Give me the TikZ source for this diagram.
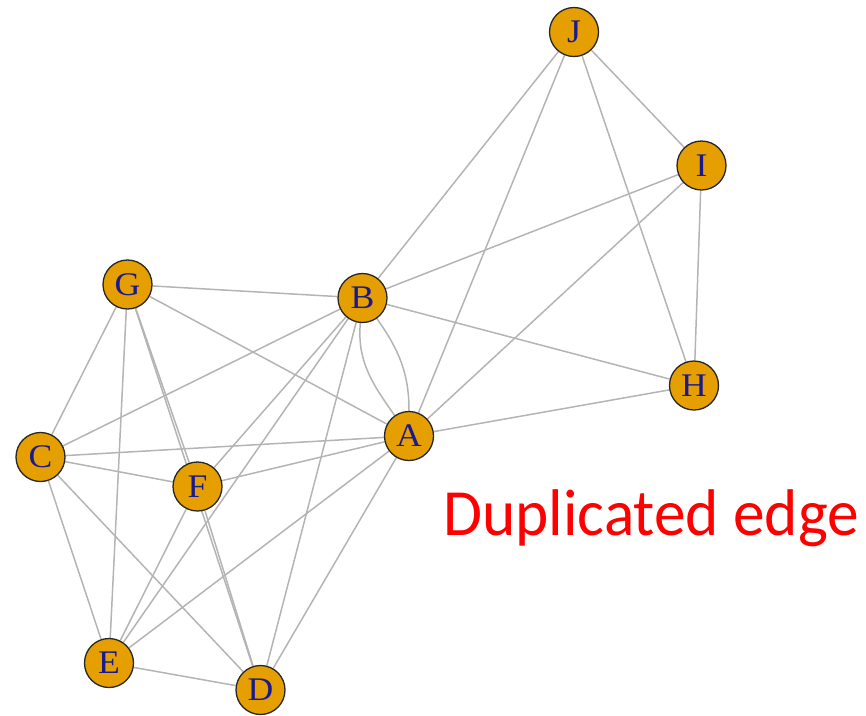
\documentclass[tikz,border=0pt]{standalone}
\usepackage{fontspec}
\setmainfont{Liberation Serif}
\newfontfamily\calib{Carlito}
\definecolor{vorange}{HTML}{E69F00}
\definecolor{vlabel}{HTML}{1A1A8C}
\definecolor{edgegray}{HTML}{B4B4B4}
\pgfdeclarelayer{bg}
\pgfsetlayers{bg,main}
\begin{document}
\begin{tikzpicture}[x=1pt,y=-1pt,
  vertex/.style={circle,draw=black!85,line width=1.3pt,fill=vorange,minimum size=49pt,inner sep=0pt,text=vlabel,font=\fontsize{33}{33}\selectfont},
  edge/.style={draw=edgegray,line width=1.5pt}]
\useasboundingbox (0,0) rectangle (866,715);
\node[vertex] (J) at (574,32) {\scalebox{1.08}[1]{J}};
\node[vertex] (I) at (701.5,165.5) {\scalebox{1.08}[1]{I}};
\node[vertex] (G) at (127.5,284.5) {\scalebox{1.08}[1]{G}};
\node[vertex] (B) at (362.5,298) {\scalebox{1.08}[1]{B}};
\node[vertex] (H) at (694,385.5) {\scalebox{1.08}[1]{H}};
\node[vertex] (A) at (409,436) {\scalebox{1.08}[1]{A}};
\node[vertex] (C) at (40.5,457) {\scalebox{1.08}[1]{C}};
\node[vertex] (F) at (197.5,486.5) {\scalebox{1.08}[1]{F}};
\node[vertex] (E) at (109,663) {\scalebox{1.08}[1]{E}};
\node[vertex] (D) at (260.5,690) {\scalebox{1.08}[1]{D}};
\begin{pgfonlayer}{bg}
\path[edge] (J) -- (I);
\path[edge] (J) -- (B);
\path[edge] (J) -- (A);
\path[edge] (J) -- (H);
\path[edge] (I) -- (B);
\path[edge] (I) -- (A);
\path[edge] (I) -- (H);
\path[edge] (G) -- (B);
\path[edge] (G) -- (A);
\path[edge] (G) -- (C);
\path[edge] (G) -- (E);
\path[edge] (G) -- (F);
\path[edge] (G.center) -- (D.center);
\path[edge] (F) -- (D);
\path[edge] (B) -- (C);
\path[edge] (B) -- (H);
\path[edge] (B) to[out=-95,in=125] (A);
\path[edge] (B) to[out=-55,in=90] (A);
\path[edge] (B) -- (F);
\path[edge] (B) -- (E);
\path[edge] (B) -- (D);
\path[edge] (A) -- (H);
\path[edge] (A) -- (C);
\path[edge] (A) -- (F);
\path[edge] (A) -- (E);
\path[edge] (A) -- (D);
\path[edge] (C) -- (F);
\path[edge] (C) -- (E);
\path[edge] (C) -- (D);
\path[edge] (F) -- (E);
\path[edge] (E) -- (D);
\end{pgfonlayer}
\node[anchor=base west,inner sep=0pt,text=red,font=\calib\fontsize{66}{66}\selectfont] (T) at (443,535) {\scalebox{0.96}[1]{Duplicated edge}};
\end{tikzpicture}
\end{document}
